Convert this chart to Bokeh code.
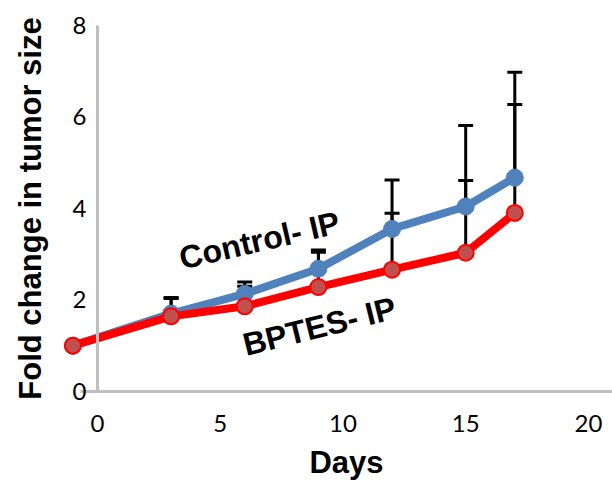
from bokeh.plotting import figure
from bokeh.models import (ColumnDataSource, Whisker, TeeHead, LinearAxis,
                          FixedTicker, Range1d, Label)
from bokeh.embed import file_html
from bokeh.resources import INLINE

# ---- data ----
days = [-1, 3, 6, 9, 12, 15, 17]
control = [1.0, 1.70, 2.13, 2.68, 3.55, 4.04, 4.67]
control_err = [0.0, 0.35, 0.26, 0.41, 1.07, 1.77, 2.30]
bptes = [1.0, 1.64, 1.86, 2.28, 2.66, 3.03, 3.90]
bptes_err = [0.0, 0.39, 0.44, 0.76, 1.23, 1.58, 2.37]
x_ticks = [0, 5, 10, 15, 20]
y_ticks = [0, 2, 4, 6, 8]
series_labels = ["Control- IP", "BPTES- IP"]
x_title = "Days"
y_title = "Fold change in tumor size"

BLUE = "#4F81BD"
RED = "#FF0000"
RED_FILL = "#C0504D"
AXIS_GRAY = "#BFBFBF"

# frame covers the whole canvas; axes are pinned at x=0 / y=0 inside it
p = figure(width=612, height=488,
           x_range=Range1d(-3.95, 20.98), y_range=Range1d(-2.12, 8.54),
           output_backend="svg", toolbar_location=None,
           x_axis_location=None, y_axis_location=None)
p.min_border = 0
p.grid.visible = False
p.outline_line_color = None
p.background_fill_color = "white"
p.border_fill_color = "white"

tick_font = "Lato"
title_font = "Liberation Sans"

xaxis = LinearAxis(fixed_location=0, bounds=(-0.7, 21.0),
                   ticker=FixedTicker(ticks=x_ticks), axis_label=x_title)
yaxis = LinearAxis(fixed_location=0, bounds=(0, 8),
                   ticker=FixedTicker(ticks=y_ticks), axis_label=y_title)
for ax in (xaxis, yaxis):
    ax.axis_line_color = AXIS_GRAY
    ax.axis_line_width = 3
    ax.major_tick_line_color = None
    ax.minor_tick_line_color = None
    ax.major_tick_out = 0
    ax.major_tick_in = 0
    ax.minor_tick_out = 0
    ax.minor_tick_in = 0
    ax.major_label_text_font = tick_font
    ax.major_label_text_font_size = "24px"
    ax.major_label_text_color = "black"
    ax.axis_label_text_font = title_font
    ax.axis_label_text_font_style = "bold"
    ax.axis_label_text_font_size = "31px"
    ax.axis_label_text_color = "black"
xaxis.major_label_standoff = 24
xaxis.axis_label_standoff = 9
yaxis.major_label_standoff = 11
yaxis.axis_label_standoff = 22
p.add_layout(xaxis, "below")
p.add_layout(yaxis, "left")

# ---- error bars (upper only) ----
def whisker_source(xs, ys, es):
    xx, lo, hi = [], [], []
    for x, y, e in zip(xs, ys, es):
        if e > 0:
            xx.append(x)
            lo.append(y)
            hi.append(y + e)
    return ColumnDataSource(dict(base=xx, lower=lo, upper=hi))

for ys, es in ((bptes, bptes_err), (control, control_err)):
    w = Whisker(source=whisker_source(days, ys, es), base="base",
                lower="lower", upper="upper", dimension="height",
                line_color="black", line_width=3,
                upper_head=TeeHead(size=15, line_color="black", line_width=3),
                lower_head=None, level="underlay")
    p.add_layout(w)

# ---- series ----
p.line(days, control, line_color=BLUE, line_width=8)
p.scatter(days, control, size=17, fill_color=BLUE, line_color=BLUE)
p.line(days, bptes, line_color=RED, line_width=8)
p.scatter(days, bptes, size=16, fill_color=RED_FILL, line_color=RED,
          line_width=2)

# ---- in-plot series labels ----
p.add_layout(Label(x=6.6, y=3.30, text=series_labels[0], angle=0.227,
                   text_align="center", text_baseline="middle",
                   text_font=title_font, text_font_style="bold",
                   text_font_size="32px", text_color="black"))
p.add_layout(Label(x=9.04, y=1.42, text=series_labels[1], angle=0.244,
                   text_align="center", text_baseline="middle",
                   text_font=title_font, text_font_style="bold",
                   text_font_size="32px", text_color="black"))

open("out.html", "w").write(file_html(p, INLINE))
